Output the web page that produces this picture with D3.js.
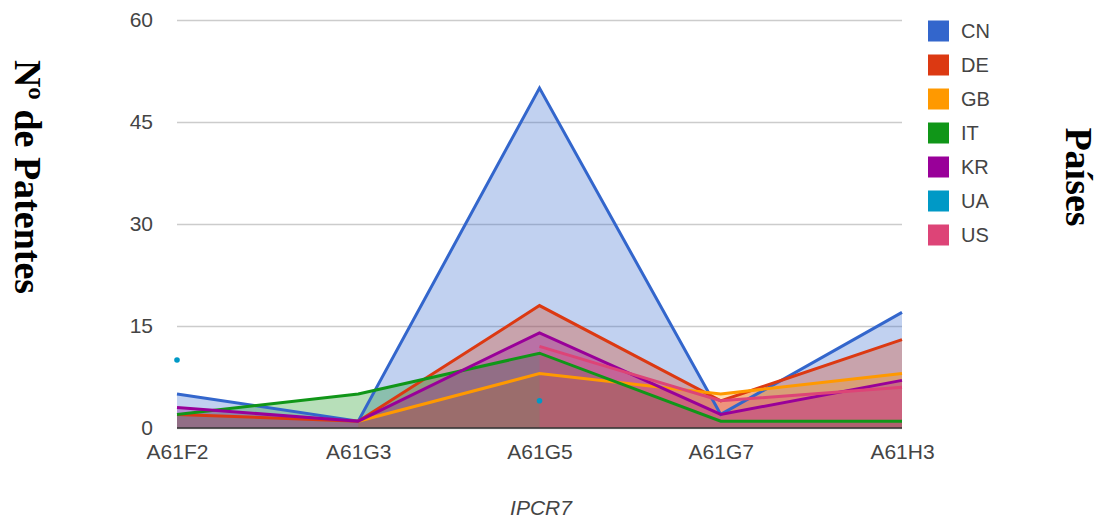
<!DOCTYPE html>
<html>
<head>
<meta charset="utf-8">
<title>IPCR7</title>
<script src="https://cdn.jsdelivr.net/npm/d3@7/dist/d3.min.js"></script>
<style>
  body { margin: 0; background: #fff; }
  .tick text { font-family: Arial, "Liberation Sans", sans-serif; fill: #444; }
  .title { font-family: "Times New Roman", "Liberation Serif", serif; font-weight: bold; fill: #000; }
</style>
</head>
<body>
<script>
var categories = ["A61F2", "A61G3", "A61G5", "A61G7", "A61H3"];
var countries = ["CN", "DE", "GB", "IT", "KR", "UA", "US"];
var colors = ["#3366cc", "#dc3912", "#ff9900", "#109618", "#990099", "#0099c6", "#dd4477"];
var cn = [5, 1, 50, 2, 17];
var de = [2, 1, 18, 4, 13];
var gb = [null, 1, 8, 5, 8];
var it = [2, 5, 11, 1, 1];
var kr = [3, 1, 14, 2, 7];
var ua = [10, null, 4, null, null];
var us = [null, null, 12, 4, 6];
var yTicks = [0, 15, 30, 45, 60];

var series = [cn, de, gb, it, kr, ua, us];

var width = 1099, height = 520;
var plotLeft = 177, plotRight = 902, plotTop = 20, plotBottom = 428;

var svg = d3.select("body").append("svg")
  .attr("width", width)
  .attr("height", height);

var x = d3.scalePoint().domain(categories).range([plotLeft, plotRight]);
var y = d3.scaleLinear().domain([0, 60]).range([plotBottom, plotTop]);

// gridlines + y labels
var yAxis = d3.axisLeft(y).tickValues(yTicks).tickSize(-(plotRight - plotLeft)).tickPadding(24);
var gy = svg.append("g")
  .attr("transform", "translate(" + plotLeft + ",0)")
  .call(yAxis);
gy.select(".domain").remove();
gy.selectAll(".tick line").attr("stroke", "#cccccc").attr("stroke-width", 1.5);
gy.selectAll(".tick text").attr("font-size", "21px");

var area = d3.area()
  .defined(function (d) { return d != null; })
  .x(function (d, i) { return x(categories[i]); })
  .y0(y(0))
  .y1(function (d) { return y(d); });

var line = d3.line()
  .defined(function (d) { return d != null; })
  .x(function (d, i) { return x(categories[i]); })
  .y(function (d) { return y(d); });

series.forEach(function (s, k) {
  svg.append("path")
    .attr("d", area(s))
    .attr("fill", colors[k])
    .attr("fill-opacity", 0.3);
});

// baseline
svg.append("line")
  .attr("x1", plotLeft).attr("x2", plotRight)
  .attr("y1", y(0)).attr("y2", y(0))
  .attr("stroke", "#333").attr("stroke-width", 1.5);

series.forEach(function (s, k) {
  svg.append("path")
    .attr("d", line(s))
    .attr("fill", "none")
    .attr("stroke", colors[k])
    .attr("stroke-width", 3)
    .attr("stroke-linejoin", "miter");
});

// isolated points (no neighbours)
series.forEach(function (s, k) {
  s.forEach(function (v, i) {
    if (v == null) return;
    var prev = i > 0 ? s[i - 1] : null, next = i < s.length - 1 ? s[i + 1] : null;
    if (prev == null && next == null) {
      svg.append("circle")
        .attr("cx", x(categories[i]))
        .attr("cy", y(v))
        .attr("r", 2.8)
        .attr("fill", colors[k]);
    }
  });
});

// x axis labels
var xAxis = d3.axisBottom(x).tickSize(0).tickPadding(16);
var gx = svg.append("g")
  .attr("transform", "translate(0," + plotBottom + ")")
  .call(xAxis);
gx.select(".domain").remove();
gx.selectAll(".tick text").attr("font-size", "21px");

svg.append("text")
  .attr("x", 541).attr("y", 515)
  .attr("text-anchor", "middle")
  .attr("font-family", "Arial, 'Liberation Sans', sans-serif")
  .attr("font-style", "italic")
  .attr("font-size", "21px")
  .attr("fill", "#444")
  .text("IPCR7");

// legend
var legend = svg.append("g");
countries.forEach(function (c, i) {
  var cy = 31 + i * 34;
  legend.append("rect")
    .attr("x", 928).attr("y", cy - 10.5)
    .attr("width", 21).attr("height", 21)
    .attr("fill", colors[i]);
  legend.append("text")
    .attr("x", 961).attr("y", cy)
    .attr("dy", "0.36em")
    .attr("font-family", "Arial, 'Liberation Sans', sans-serif")
    .attr("font-size", "20px")
    .attr("fill", "#444")
    .text(c);
});

// titles
svg.append("text")
  .attr("class", "title")
  .attr("transform", "translate(15,177) rotate(90)")
  .attr("text-anchor", "middle")
  .attr("font-size", "38px")
  .text("Nº de Patentes");

svg.append("text")
  .attr("class", "title")
  .attr("transform", "translate(1066,177) rotate(90)")
  .attr("text-anchor", "middle")
  .attr("font-size", "38px")
  .text("Países");
</script>
</body>
</html>
